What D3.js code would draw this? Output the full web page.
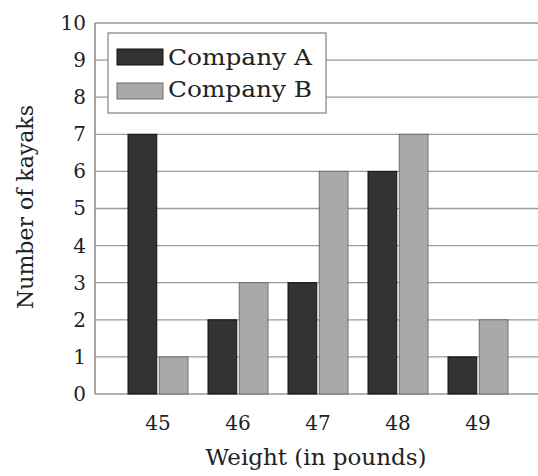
<!DOCTYPE html>
<meta charset="utf-8">
<style>
    body { margin: 0; background: #fff; }
    svg { display: block; font-family: "DejaVu Serif", serif; }
    .grid line { stroke: #9a9a9a; stroke-width: 1.3; }
</style>
<body>
<script src="https://d3js.org/d3.v7.min.js"></script>
<script>
    var weights = ["45", "46", "47", "48", "49"];
    var seriesNames = ["Company A", "Company B"];
    var companyA = [7, 2, 3, 6, 1];
    var companyB = [1, 3, 6, 7, 2];
    var yTicks = [0, 1, 2, 3, 4, 5, 6, 7, 8, 9, 10];

    var width = 538, height = 476;
    var plotL = 95, plotR = 560, plotT = 23, plotB = 394;

    var colors = {"Company A": "#333333", "Company B": "#a9a9a9"};
    var strokes = {"Company A": "#111111", "Company B": "#6e6e6e"};

    var svg = d3.select("body").append("svg")
        .attr("width", width)
        .attr("height", height);

    var y = d3.scaleLinear().domain([0, 10]).range([plotB, plotT]);

    var x0 = d3.scaleBand()
        .domain(weights)
        .range([118, 518])
        .paddingInner(0.25)
        .paddingOuter(0.125);

    var x1 = d3.scaleBand()
        .domain(seriesNames)
        .range([0, x0.bandwidth()])
        .paddingInner(0.08);

    // gridlines
    svg.append("g")
        .attr("class", "grid")
        .selectAll("line")
        .data(yTicks)
        .enter().append("line")
        .attr("x1", plotL).attr("x2", plotR)
        .attr("y1", function(d){ return y(d); })
        .attr("y2", function(d){ return y(d); });

    // left edge of the frame
    svg.append("line")
        .attr("x1", plotL).attr("x2", plotL)
        .attr("y1", plotT).attr("y2", plotB)
        .style("stroke", "#8a8a8a").style("stroke-width", 1.5);

    var rows = weights.map(function(w, i){
        return {w: w, vals: [{k: "Company A", v: companyA[i]}, {k: "Company B", v: companyB[i]}]};
    });

    svg.append("g")
        .selectAll("g")
        .data(rows)
        .enter().append("g")
        .attr("transform", function(d){ return "translate(" + x0(d.w) + ",0)"; })
        .selectAll("rect")
        .data(function(d){ return d.vals; })
        .enter().append("rect")
        .attr("x", function(d){ return x1(d.k); })
        .attr("y", function(d){ return y(d.v); })
        .attr("width", x1.bandwidth())
        .attr("height", function(d){ return plotB - y(d.v); })
        .style("fill", function(d){ return colors[d.k]; })
        .style("stroke", function(d){ return strokes[d.k]; })
        .style("stroke-width", 1);

    // y axis labels
    var yAxis = d3.axisLeft(y).tickValues(yTicks).tickSize(0).tickPadding(9);
    var ya = svg.append("g")
        .attr("transform", "translate(" + plotL + ",0)")
        .call(yAxis);
    ya.select(".domain").remove();
    ya.selectAll("text")
        .style("font-family", "DejaVu Serif, serif")
        .style("font-size", "20px")
        .style("fill", "#222");

    // x axis labels
    var xAxis = d3.axisBottom(x0).tickSize(0).tickPadding(22);
    var xa = svg.append("g")
        .attr("transform", "translate(0," + plotB + ")")
        .call(xAxis);
    xa.select(".domain").remove();
    xa.selectAll("text")
        .style("font-family", "DejaVu Serif, serif")
        .style("font-size", "20px")
        .style("fill", "#222");

    // axis titles
    svg.append("text")
        .attr("x", 316).attr("y", 465)
        .attr("text-anchor", "middle")
        .style("font-size", "23px")
        .style("fill", "#222")
        .text("Weight (in pounds)");

    svg.append("text")
        .attr("transform", "translate(33,207) rotate(-90)")
        .attr("text-anchor", "middle")
        .style("font-size", "22px")
        .style("fill", "#222")
        .text("Number of kayaks");

    // legend
    var lg = svg.append("g");
    lg.append("rect")
        .attr("x", 108).attr("y", 33)
        .attr("width", 218).attr("height", 80)
        .style("fill", "#fff")
        .style("stroke", "#8a8a8a").style("stroke-width", 1.3);

    seriesNames.forEach(function(s, i){
        lg.append("rect")
            .attr("x", 117).attr("y", 49 + i * 34)
            .attr("width", 46).attr("height", 16)
            .style("fill", colors[s])
            .style("stroke", strokes[s]);
        lg.append("text")
            .attr("x", 168).attr("y", 65 + i * 32)
            .attr("textLength", 144)
            .attr("lengthAdjust", "spacingAndGlyphs")
            .style("font-size", "23px")
            .style("fill", "#222")
            .text(s);
    });
</script>
